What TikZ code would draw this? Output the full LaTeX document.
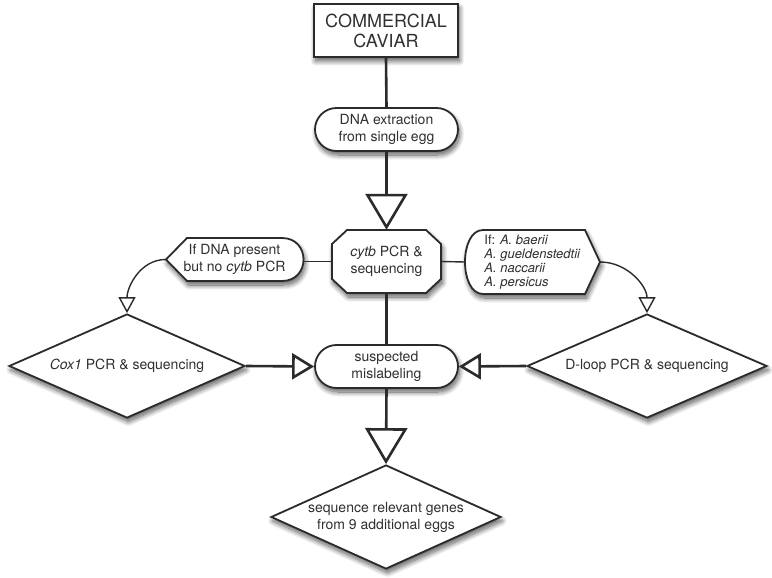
\documentclass[tikz,border=0pt]{standalone}
\usepackage{fontspec}
\setmainfont{TeX Gyre Heros}
\usetikzlibrary{arrows.meta,shapes.geometric,shadows.blur}
\definecolor{ink}{HTML}{2B2B2B}
\definecolor{txt}{HTML}{303030}
\tikzset{
  softshadow/.style={blur shadow={shadow xshift=1.5pt, shadow yshift=-4pt, shadow blur radius=5pt, shadow blur steps=12, shadow opacity=65}},
  boxbase/.style={draw=ink, line width=1.8pt, fill=white, softshadow, text=txt, align=center, inner sep=0pt, font=\fontsize{14}{17}\selectfont},
  stadium/.style={boxbase, rounded corners=21.5pt, minimum width=143pt, minimum height=43pt},
  diam/.style={boxbase, diamond, minimum height=104pt},
  plain/.style={text=txt, align=center, inner sep=0pt, font=\fontsize{14}{17}\selectfont},
  outline/.style={draw=ink, line width=1.8pt, fill=white, softshadow},
  thick line/.style={draw=ink, line width=2.6pt},
  bigarrow/.style={thick line, -{Triangle[length=36pt, width=42pt, fill=white]}},
  midarrow/.style={thick line, -{Triangle[length=22pt, width=26pt, fill=white]}},
  thin line/.style={draw=ink, line width=1.4pt},
  smallarrow/.style={thin line, -{Triangle[length=16pt, width=17pt, fill=white]}},
}
\begin{document}
\begin{tikzpicture}[x=1pt,y=-1pt, line join=miter]
\useasboundingbox (0,0) rectangle (772,578);

% shapes drawn by hand
\path[outline] (347,230) -- (426,230) -- (441,244) -- (441,279) -- (426,293) -- (347,293) -- (332,279) -- (332,244) -- cycle;
\path[outline] (166,259.5) -- (187,238) -- (282,238) .. controls (310.7,238) and (310.7,281) .. (282,281) -- (187,281) -- cycle;
\path[outline] (600,262) -- (585,294) -- (483,294) .. controls (459,294) and (459,230) .. (483,230) -- (585,230) -- cycle;

% nodes
\node[boxbase, minimum width=144pt, minimum height=53pt, font=\fontsize{18}{20}\selectfont] (cav) at (386,30.5) {COMMERCIAL\\CAVIAR};
\node[stadium] (dna) at (386.5,129.5) {DNA extraction\\from single egg};
\node[plain, minimum width=109pt, minimum height=63pt] (cytb) at (386.5,261.5) {\textit{cytb} PCR \&\\sequencing};
\node[plain, minimum width=137pt, minimum height=43pt] (lhex) at (234.5,259.5) {If DNA present\\but no \textit{cytb} PCR};
\node[plain, align=left, minimum width=135pt, minimum height=64pt, font=\fontsize{13}{14}\selectfont] (rhex) at (532.5,262) {If: \textit{A. baerii}\\\textit{A. gueldenstedtii}\\\textit{A. naccarii}\\\textit{A. persicus}};
\node[stadium] (susp) at (386.5,366.5) {suspected\\mislabeling};
\node[diam, minimum width=236pt, aspect=2.27] (cox) at (127,366) {\textit{Cox1} PCR \& sequencing};
\node[diam, minimum width=240pt, aspect=2.3] (dloop) at (647,366) {D-loop PCR \& sequencing};
\node[diam, minimum width=230pt, aspect=2.21] (seq) at (386,517) {sequence relevant genes\\from 9 additional eggs};

% connectors
\draw[thick line] (cav.south) -- (dna.north);
\draw[bigarrow] (dna.south) -- (cytb.north);
\draw[thick line] (cytb.south) -- (susp.north);
\draw[thin line] (cytb.west) -- (cytb.west -| lhex.east);
\draw[thin line] (cytb.east) -- (rhex.west);
\draw[smallarrow] (lhex.west) to[out=180,in=90] (cox.north);
\draw[smallarrow] (rhex.east) to[out=0,in=90] (dloop.north);
\draw[midarrow] (cox.east) -- (susp.west);
\draw[midarrow] (dloop.west) -- (susp.east);
\draw[bigarrow] (susp.south) -- (seq.north);
\end{tikzpicture}
\end{document}
